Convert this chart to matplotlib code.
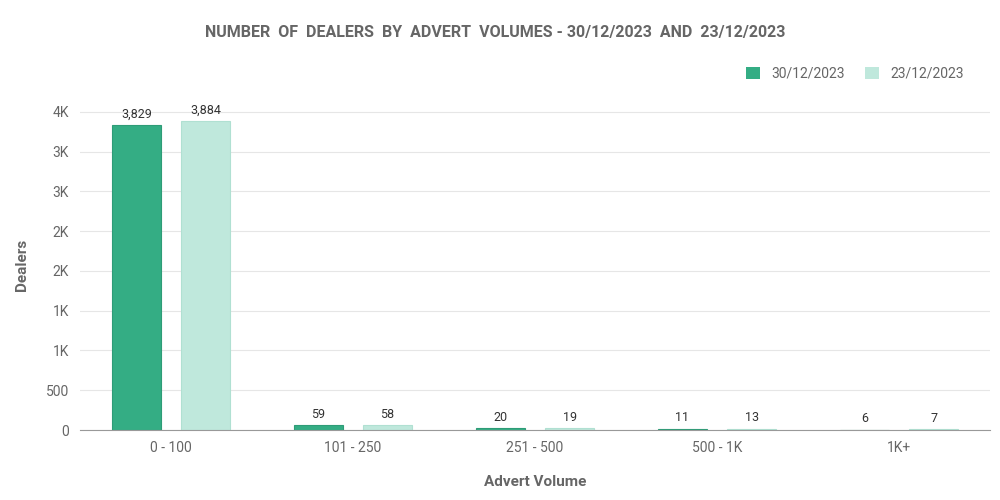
import matplotlib.pyplot as plt
import numpy as np

categories = ["0 - 100", "101 - 250", "251 - 500", "500 - 1K", "1K+"]
dealers_30 = [3829, 59, 20, 11, 6]
dealers_23 = [3884, 58, 19, 13, 7]
tick_values = [0, 500, 1000, 1500, 2000, 2500, 3000, 3500, 4000]
tick_labels = ["0", "500", "1K", "1K", "2K", "2K", "3K", "3K", "4K"]

dark = "#34ad84"
light = "#bfe8dc"
grey = "#666666"

plt.rcParams["font.family"] = "Roboto"
fig = plt.figure(figsize=(10, 5), dpi=100)
ax = fig.add_axes([0.08, 0.14, 0.91, 0.66])

x = np.arange(len(categories))
w = 0.27
b1 = ax.bar(x - 0.19, dealers_30, w, color=dark, edgecolor="#2e9c77", linewidth=0.8)
b2 = ax.bar(x + 0.19, dealers_23, w, color=light, edgecolor="#b0e0d2", linewidth=0.8)
for bars, vals in ((b1, dealers_30), (b2, dealers_23)):
    for rect, v in zip(bars, vals):
        ax.text(rect.get_x() + rect.get_width() / 2, v + 60, f"{v:,}",
                ha="center", va="bottom", fontsize=9, color="#333333")

ax.set_xlim(-0.5, len(categories) - 0.5)
ax.set_ylim(0, 4000 * (430 - 95) / (430 - 107))
ax.set_yticks(tick_values)
ax.set_yticklabels(tick_labels)
ax.set_xticks(x)
ax.set_xticklabels(categories)
ax.tick_params(axis="both", length=0, labelsize=10, colors=grey, pad=8)
ax.grid(axis="y", color="#e6e6e6", linewidth=0.8)
ax.set_axisbelow(True)
for s in ("top", "right", "left"):
    ax.spines[s].set_visible(False)
ax.spines["bottom"].set_color("#999999")

ax.set_xlabel("Advert Volume", fontsize=11, fontweight="bold", color=grey, labelpad=14)
ax.set_ylabel("Dealers", fontsize=11, fontweight="bold", color=grey, labelpad=12)

fig.text(0.495, 0.935, "NUMBER  OF  DEALERS  BY  ADVERT  VOLUMES - 30/12/2023  AND  23/12/2023",
         ha="center", va="center", fontsize=11.5, fontweight="bold", color=grey)

ax.legend([b1, b2], ["30/12/2023", "23/12/2023"], loc="lower right",
          bbox_to_anchor=(0.985, 1.02), ncol=2, frameon=False, fontsize=10,
          handlelength=1, handleheight=1, columnspacing=1.5, labelcolor=grey)
for h in ax.get_legend().legend_handles:
    h.set_linewidth(0)

fig.savefig("out.png")
